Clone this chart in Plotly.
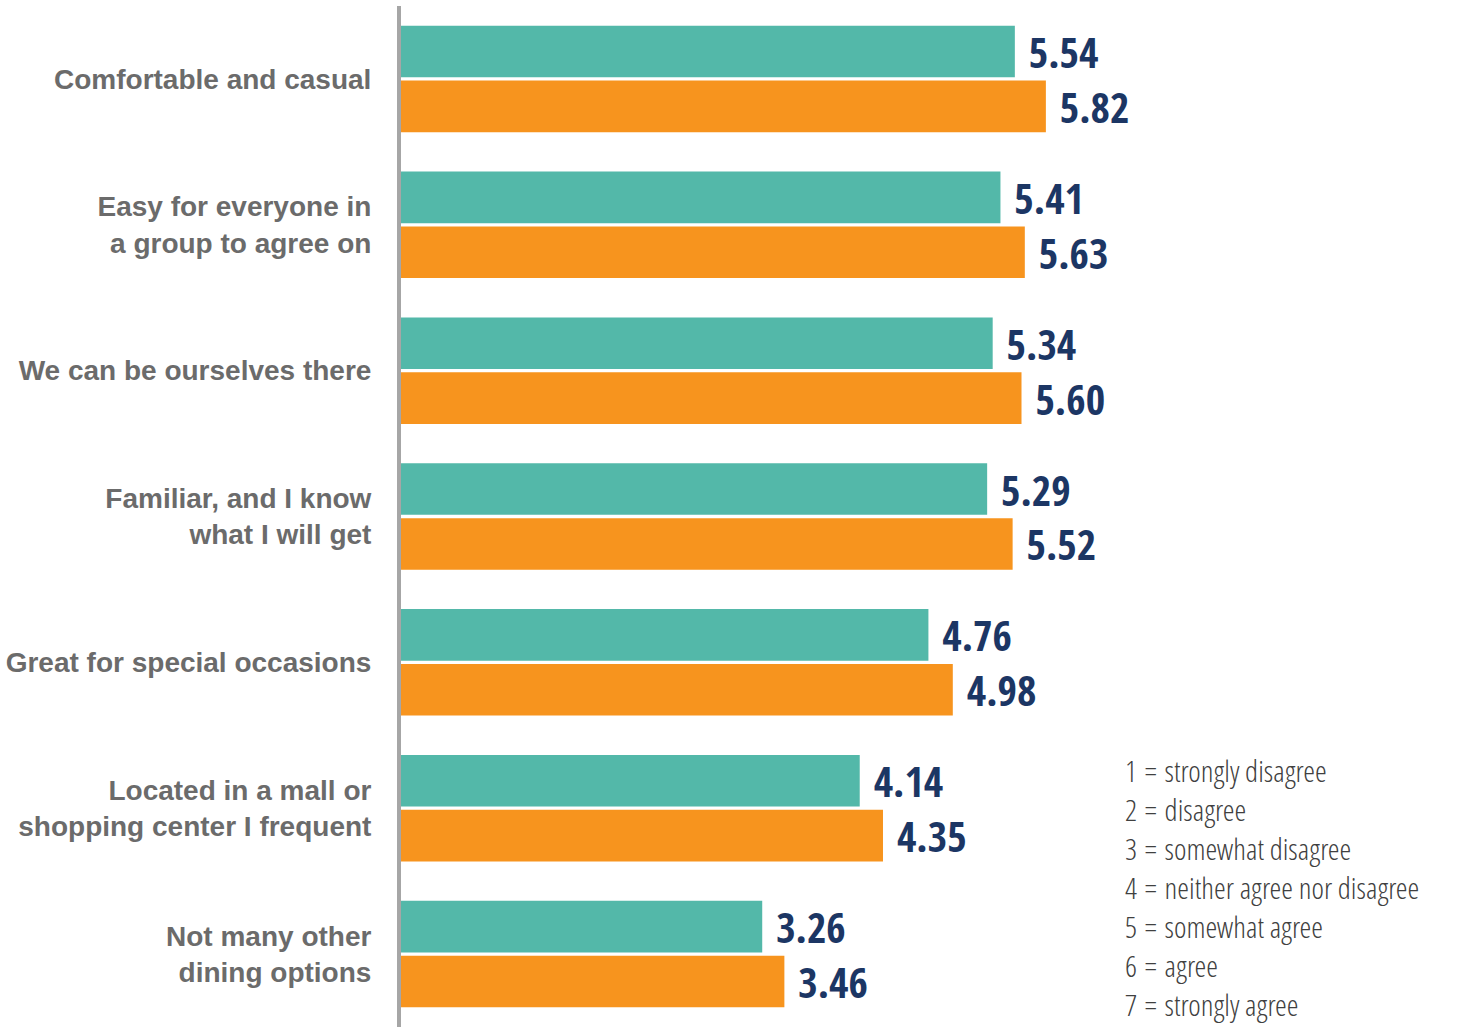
import plotly.graph_objects as go

categories = [
    "Comfortable and casual",
    "Easy for everyone in<br>a group to agree on",
    "We can be ourselves there",
    "Familiar, and I know<br>what I will get",
    "Great for special occasions",
    "Located in a mall or<br>shopping center I frequent",
    "Not many other<br>dining options",
]
series_a = [5.54, 5.41, 5.34, 5.29, 4.76, 4.14, 3.26]
series_b = [5.82, 5.63, 5.60, 5.52, 4.98, 4.35, 3.46]
scale_codes = ["1", "2", "3", "4", "5", "6", "7"]
scale_meanings = [
    "strongly disagree",
    "disagree",
    "somewhat disagree",
    "neither agree nor disagree",
    "somewhat agree",
    "agree",
    "strongly agree",
]

TEAL = "#53b8a9"
ORANGE = "#f7941e"
NAVY = "#1c3664"
GRAY = "#6b6b6b"
NARROW = "Open Sans Condensed, Liberation Sans Narrow, sans-serif"
NARROW_LIGHT = "Open Sans Condensed Light, Open Sans Condensed, sans-serif"

fig = go.Figure()
for vals, col in [(series_a, TEAL), (series_b, ORANGE)]:
    fig.add_trace(go.Bar(
        y=categories, x=vals, orientation="h",
        marker=dict(color=col, line=dict(width=0)),
        text=vals, texttemplate="\u00a0%{x:.2f}", textposition="outside",
        constraintext="none",
        textfont=dict(family=NARROW, size=42, color=NAVY, weight="bold"),
        cliponaxis=False, showlegend=False, hoverinfo="skip",
    ))

key_text = "<br>".join(f"{c}\u00a0=\u00a0{m}" for c, m in zip(scale_codes, scale_meanings))
fig.add_annotation(
    xref="paper", yref="paper", x=0.6685, y=0.137,
    xanchor="left", yanchor="middle", align="left", showarrow=False,
    text=key_text,
    font=dict(family=NARROW_LIGHT, size=30, color="#404040", weight=300),
)

fig.update_layout(
    width=1481, height=1027,
    margin=dict(l=401, r=0, t=6, b=0),
    paper_bgcolor="white", plot_bgcolor="white",
    barmode="group", bargap=0.247, bargroupgap=0.06,
    xaxis=dict(range=[0, 9.747], visible=False, showgrid=False, zeroline=False),
    yaxis=dict(
        autorange="reversed", showgrid=False, zeroline=False,
        showline=True, linecolor="#a6a6a6", linewidth=4,
        ticks="outside", ticklen=20, tickcolor="rgba(0,0,0,0)",
        tickfont=dict(family="Liberation Sans, Arial, sans-serif", size=28, color=GRAY, weight="bold"),
    ),
)

fig.write_html("out.html", config={"displayModeBar": False},
               post_script="document.body.style.margin='0px';")
